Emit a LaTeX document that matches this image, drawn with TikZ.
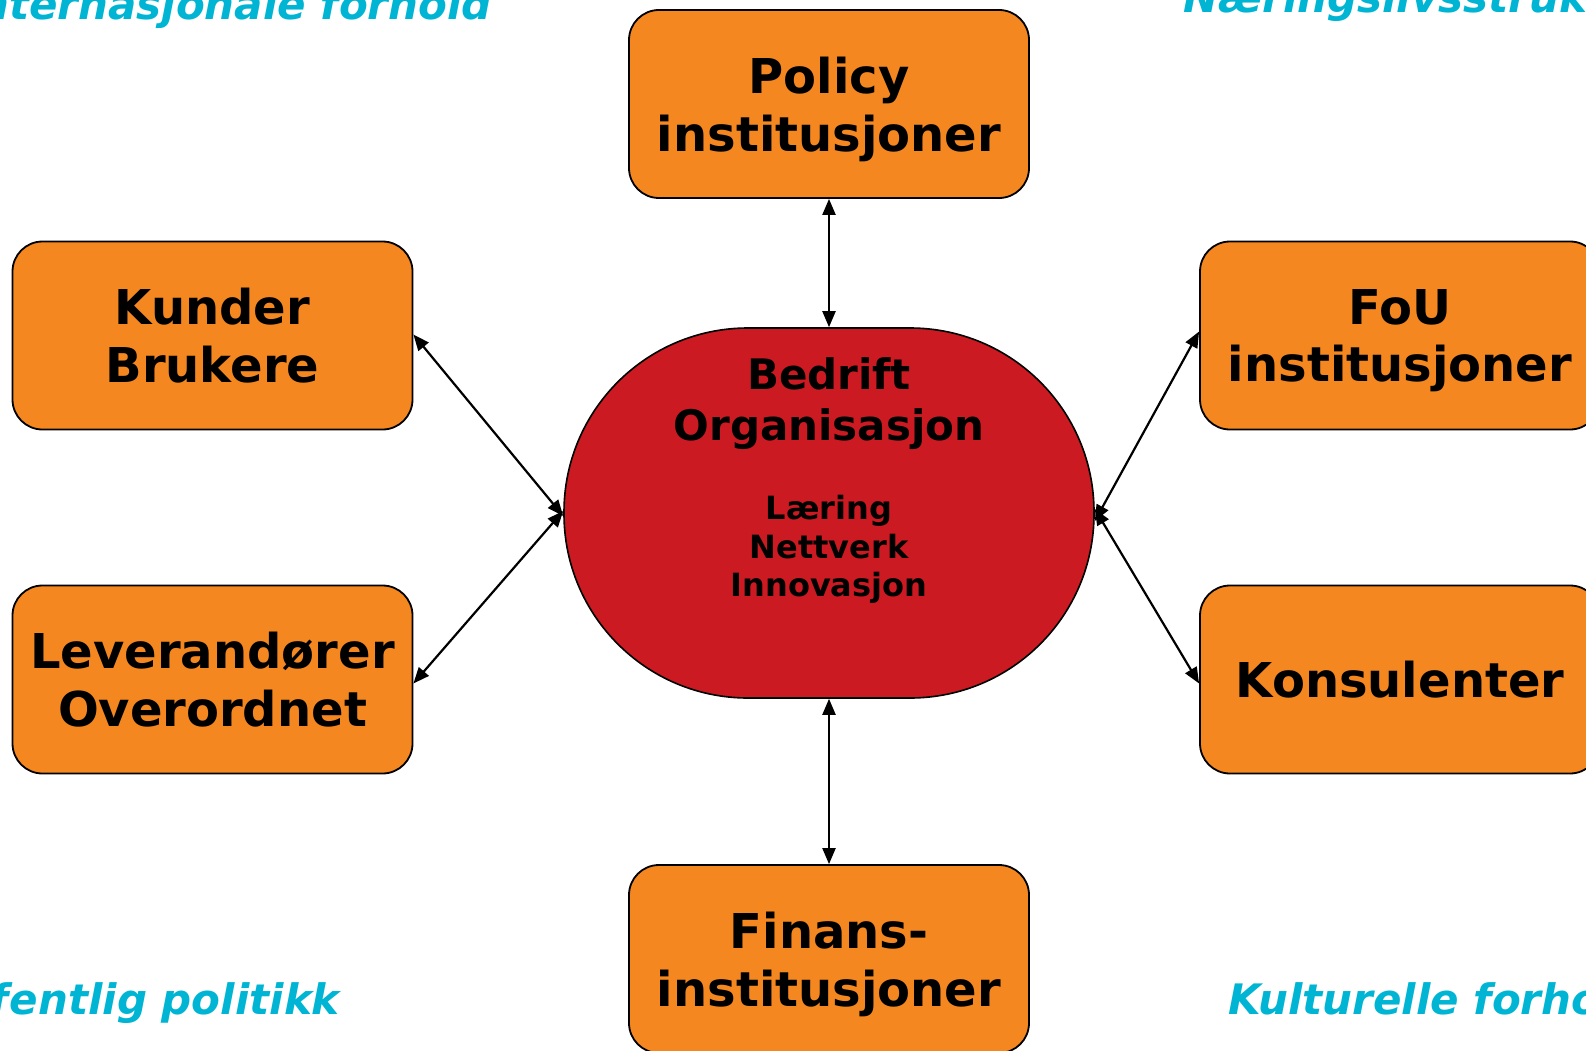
\documentclass[tikz,border=0pt]{standalone}
\usepackage{fontspec}
\setmainfont{DejaVu Sans}
\usetikzlibrary{arrows.meta}
\definecolor{boxorange}{HTML}{F58720}
\definecolor{corered}{HTML}{CB1A21}
\definecolor{cornercyan}{HTML}{00B5D4}
\tikzset{
  actor/.style={draw=black, line width=1.8pt, fill=boxorange, rounded corners=30pt,
    minimum width=400pt, minimum height=188pt, align=center, text depth=0pt,
    inner sep=0pt, font=\fontsize{48}{57.6}\selectfont\bfseries},
  core/.style={draw=black, line width=1.6pt, fill=corered, rounded corners=184pt,
    minimum width=530pt, minimum height=370pt, inner sep=0pt},
  coretitle/.style={align=center, text depth=0pt, inner sep=0pt,
    font=\fontsize{42}{50.4}\selectfont\bfseries},
  coresub/.style={align=center, text depth=0pt, inner sep=0pt,
    font=\fontsize{32}{38.4}\selectfont\bfseries},
  corner/.style={inner sep=0pt, text=cornercyan,
    font=\fontsize{42}{50}\selectfont\bfseries\itshape},
  link/.style={line width=2.2pt, {Triangle[length=16pt,width=13pt]}-{Triangle[length=16pt,width=13pt]}}
}
\begin{document}
\begin{tikzpicture}[x=1pt,y=-1pt]
\useasboundingbox (0,0) rectangle (1586,1051);
\clip (0,0) rectangle (1586,1051);
% corner labels
\node[corner, anchor=base east] (tl) at (492,20) {Internasjonale forhold};
\node[corner, anchor=base west] (tr) at (1183,13) {Næringslivsstruktur};
\node[corner, anchor=base east] (bl) at (340,1014) {Offentlig politikk};
\node[corner, anchor=base west] (br) at (1228,1014) {Kulturelle forhold};
% centre
\node[core] (b) at (829,513) {};
\node[coretitle] (bt) at (829,399) {Bedrift\\Organisasjon};
\node[coresub] (bs) at (829,546) {Læring\\Nettverk\\Innovasjon};
% boxes
\node[actor] (pol) at (829,104) {Policy\\institusjoner};
\node[actor] (kun) at (212.5,335.5) {Kunder\\Brukere};
\node[actor] (lev) at (212.5,679.5) {Leverandører\\Overordnet};
\node[actor] (fou) at (1400,335.5) {FoU\\institusjoner};
\node[actor] (kon) at (1400,679.5) {Konsulenter};
\node[actor] (fin) at (829,959) {Finans-\\institusjoner};
% connectors
\draw[link] (pol.south) -- (b.north);
\draw[link] (b.south) -- (fin.north);
\draw[link] ([yshift=1pt]kun.east) -- ([yshift=-3pt]b.west);
\draw[link] ([yshift=-4pt]lev.east) -- ([yshift=2pt]b.west);
\draw[link] ([yshift=4pt]fou.west) -- ([yshift=-8pt]b.east);
\draw[link] ([yshift=-4pt]kon.west) -- ([yshift=4pt]b.east);
\end{tikzpicture}
\end{document}
